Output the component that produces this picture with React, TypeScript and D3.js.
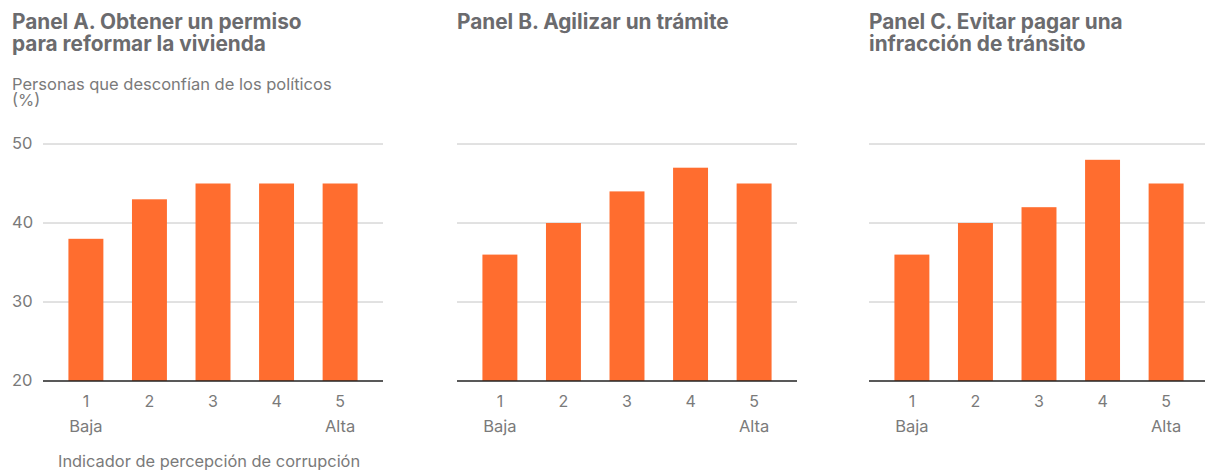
import React from "react";
import * as d3 from "d3";

const categories = ["1", "2", "3", "4", "5"];
const categoryNotes = ["Baja", "", "", "", "Alta"];
const panelAValues = [38, 43, 45, 45, 45];
const panelBValues = [36, 40, 44, 47, 45];
const panelCValues = [36, 40, 42, 48, 45];
const yTicks = [20, 30, 40, 50];
const panelATitle = ["Panel A. Obtener un permiso", "para reformar la vivienda"];
const panelBTitle = ["Panel B. Agilizar un trámite"];
const panelCTitle = ["Panel C. Evitar pagar una", "infracción de tránsito"];
const yAxisTitle = ["Personas que desconfían de los políticos", "(%)"];
const xAxisTitle = "Indicador de percepción de corrupción";

const FONT = "Inter, 'Liberation Sans', Arial, sans-serif";
const TITLE_COLOR = "#6b6b6e";
const TEXT_COLOR = "#7a7a7a";
const BAR_COLOR = "#ff6d2f";
const GRID_COLOR = "#c4c4c4";

const panels = [
  { title: panelATitle, values: panelAValues, left: 43, titleX: 12, showY: true },
  { title: panelBTitle, values: panelBValues, left: 457, titleX: 457, showY: false },
  { title: panelCTitle, values: panelCValues, left: 869, titleX: 869, showY: false },
];

const PLOT_W = 340;
const y = d3.scaleLinear().domain([20, 50]).range([381, 144]);

function Panel({ p }: { p: (typeof panels)[number] }) {
  const x = d3
    .scaleBand<string>()
    .domain(categories)
    .range([p.left, p.left + PLOT_W])
    .paddingInner(0.45)
    .paddingOuter(0.4);
  return (
    <g>
      {p.title.map((t, i) => (
        <text key={t} x={p.titleX} y={29 + i * 22} fontSize={20.8} fontWeight={700} fill={TITLE_COLOR}>
          {t}
        </text>
      ))}
      {yTicks
        .filter((t) => t !== 20)
        .map((t) => (
          <line key={t} x1={p.left} x2={p.left + PLOT_W} y1={y(t)} y2={y(t)} stroke={GRID_COLOR} strokeWidth={1} />
        ))}
      {p.values.map((v, i) => (
        <rect
          key={i}
          x={x(categories[i])}
          y={y(v)}
          width={x.bandwidth()}
          height={y(20) - y(v)}
          fill={BAR_COLOR}
        />
      ))}
      <line x1={p.left} x2={p.left + PLOT_W} y1={y(20)} y2={y(20)} stroke="#222" strokeWidth={1.5} />
      {p.showY &&
        yTicks.map((t) => (
          <text key={t} x={12} y={y(t)} dy="0.3em" fontSize={16.5} fill={TEXT_COLOR}>
            {t}
          </text>
        ))}
      {categories.map((c, i) => (
        <g key={c}>
          <text x={(x(c) as number) + x.bandwidth() / 2} y={407} textAnchor="middle" fontSize={16} fill={TEXT_COLOR}>
            {c}
          </text>
          {categoryNotes[i] && (
            <text x={(x(c) as number) + x.bandwidth() / 2} y={432} textAnchor="middle" fontSize={16.5} fill={TEXT_COLOR}>
              {categoryNotes[i]}
            </text>
          )}
        </g>
      ))}
    </g>
  );
}

export default function App() {
  return (
    <svg
      width={1205}
      height={470}
      style={{ position: "absolute", left: 0, top: 0, background: "#fff" }}
      fontFamily={FONT}
    >
      {panels.map((p, i) => (
        <Panel key={i} p={p} />
      ))}
      {yAxisTitle.map((t, i) => (
        <text key={t} x={12} y={90 + i * 16} fontSize={16.5} fill={TEXT_COLOR}>
          {t}
        </text>
      ))}
      <text x={58} y={467} fontSize={16.4} fill={TEXT_COLOR}>
        {xAxisTitle}
      </text>
    </svg>
  );
}
